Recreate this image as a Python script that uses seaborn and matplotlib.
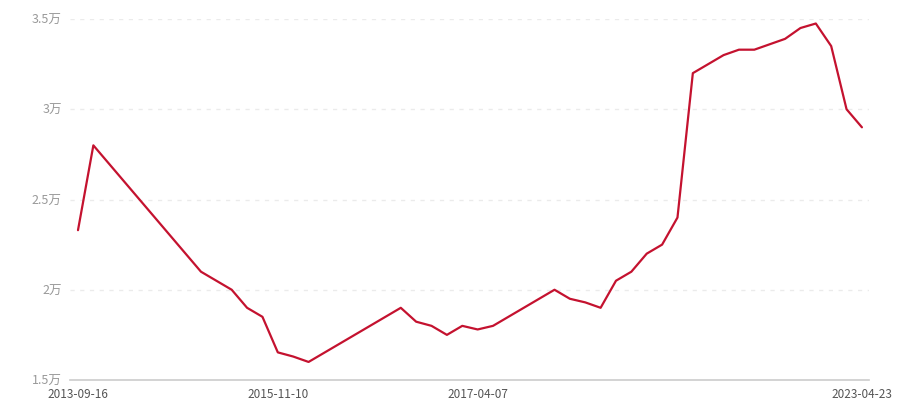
import numpy as np
import pandas as pd
import matplotlib
matplotlib.use("Agg")
import matplotlib.pyplot as plt
import seaborn as sns

# veri: 52 kategori (tarih), bazıları boş -> çizgi bunları birleştiriyor
values = [2.33, 2.80, None, None, None, None, None, None, 2.10, 2.05,
          2.00, 1.90, 1.85, 1.653, 1.63, 1.60, None, None, None, None,
          None, 1.90, 1.823, 1.80, 1.75, 1.80, 1.78, 1.80, None, None,
          None, 2.00, 1.95, 1.93, 1.90, 2.05, 2.10, 2.20, 2.25, 2.40,
          3.20, 3.25, 3.30, 3.33, 3.33, 3.36, 3.39, 3.45, 3.475, 3.35,
          3.00, 2.90]
tick_idx = [0, 13, 26, 51]
tick_labels = ["2013-09-16", "2015-11-10", "2017-04-07", "2023-04-23"]
y_ticks = [1.5, 2.0, 2.5, 3.0, 3.5]
y_labels = ["1.5万", "2万", "2.5万", "3万", "3.5万"]

df = pd.DataFrame({"idx": np.arange(len(values)), "val": values}).dropna()

sns.set_style("white")
plt.rcParams['font.family'] = ['Noto Sans CJK SC', 'DejaVu Sans']

fig = plt.figure(figsize=(9, 4), dpi=100)
ax = fig.add_axes([70/900, 20/400, 799/900, 361/400])

sns.lineplot(data=df, x="idx", y="val", color="#c4122f", linewidth=1.6, ax=ax)

ax.set_xlim(-0.52, 51.46)
ax.set_ylim(1.5, 3.5)
ax.set_yticks(y_ticks)
ax.set_yticklabels(y_labels, color="#999999", fontsize=9)
ax.set_xticks(tick_idx)
ax.set_xticklabels(tick_labels, color="#555555", fontsize=8.5)
ax.set_xlabel("")
ax.set_ylabel("")

for y in y_ticks[1:]:
    ax.axhline(y, color="#ebebeb", linestyle=(0, (3, 4)), linewidth=1, zorder=0)

for s in ["top", "right", "left"]:
    ax.spines[s].set_visible(False)
ax.spines["bottom"].set_color("#cccccc")
ax.spines["bottom"].set_linewidth(1.2)
ax.tick_params(axis="x", length=4, color="#cccccc", pad=1.5)
ax.tick_params(axis="y", length=0, pad=6)

fig.savefig("out.png", dpi=100)
